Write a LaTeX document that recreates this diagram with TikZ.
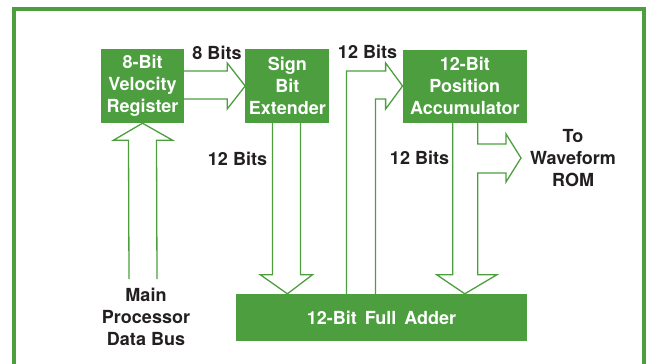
\documentclass[tikz,border=0pt]{standalone}
\usepackage{fontspec}
\setmainfont{TeX Gyre Heros}
\usetikzlibrary{positioning,calc}

\definecolor{hpgreen}{RGB}{76,158,62}
\definecolor{inkdark}{RGB}{35,31,32}

\tikzset{
  blk/.style={fill=hpgreen, text=white, align=center, inner sep=0pt,
    font=\bfseries\fontsize{18}{22}\selectfont},
  lbl/.style={text=inkdark, align=center, inner sep=0pt,
    font=\bfseries\fontsize{18}{22}\selectfont},
  hollow/.style={draw=hpgreen, line width=1.3pt, line join=miter},
  frame/.style={draw=hpgreen, line width=4pt}
}

\begin{document}
\begin{tikzpicture}[x=1pt, y=-1pt]
  \useasboundingbox (0,0) rectangle (648,364);
  \draw[frame] (14,364) -- (14,9) -- (644,9) -- (644,364);

  % blocks
  \node[blk, minimum width=83pt, minimum height=74pt] (vreg) at (142.5,86) {8-Bit\\Velocity\\Register};
  \node[blk, minimum width=84pt, minimum height=74pt, right=61pt of vreg] (sbe) {Sign\\Bit\\Extender};
  \node[blk, minimum width=124pt, minimum height=73pt, right=73pt of sbe] (pacc) {12-Bit\\Position\\Accumulator};
  \node[blk, minimum width=291pt, minimum height=47pt] (adder) at (381.5,317.5) {12-Bit\, Full\, Adder};

  % labels
  \node[lbl] (l8) at (217,53) {8 Bits};
  \node[lbl] (l12a) at (237.5,159) {12 Bits};
  \node[lbl] (l12b) at (367.5,52) {12 Bits};
  \node[lbl] (l12c) at (419.5,158) {12 Bits};
  \node[lbl] (bus) at (146,317) {Main\\Processor\\Data Bus};
  \coordinate (busend) at (143,279);
  \coordinate (wf) at (521,158);
  \node[lbl, right=9pt of wf] (rom) {To\\Waveform\\ROM};

  % tips
  \coordinate (sbetip) at (sbe.south |- adder.north);
  \coordinate (acctip) at (pacc.south |- adder.north);
  \coordinate (lp) at ($(pacc.west)+(-17,0)$);

  % hollow bus arrows
  \draw[hollow] ($(vreg.east)+(0,-15)$) -- ($(sbe.west)+(-18,-15)$) -- ($(sbe.west)+(-18,-23)$)
    -- (sbe.west) -- ($(sbe.west)+(-18,23)$) -- ($(sbe.west)+(-18,13)$) -- ($(vreg.east)+(0,13)$);
  \draw[hollow] ($(busend)+(-14,0)$) -- ($(vreg.south)+(-14,17)$) -- ($(vreg.south)+(-29,17)$)
    -- (vreg.south) -- ($(vreg.south)+(30,17)$) -- ($(vreg.south)+(14,17)$) -- ($(busend)+(14,0)$);
  \draw[hollow] ($(sbe.south)+(-15,0)$) -- ($(sbetip)+(-15,-19)$) -- ($(sbetip)+(-27,-19)$)
    -- (sbetip) -- ($(sbetip)+(25,-19)$) -- ($(sbetip)+(13,-19)$) -- ($(sbe.south)+(13,0)$);
  \draw[hollow] ($(adder.north)+(-35,0)$) |- ($(lp)+(0,-15)$) -- ($(lp)+(0,-23)$)
    -- (pacc.west) -- ($(lp)+(0,23)$) -- ($(lp)+(0,13)$) -| ($(adder.north)+(-6,0)$);
  \draw[hollow] ($(pacc.south)+(-12,0)$) -- ($(acctip)+(-12,-19)$) -- ($(acctip)+(-28,-19)$)
    -- (acctip) -- ($(acctip)+(32,-19)$) -- ($(acctip)+(13,-19)$) |- ($(wf)+(-15,15)$)
    -- ($(wf)+(-15,24)$) -- (wf) -- ($(wf)+(-15,-24)$) -- ($(wf)+(-15,-14)$) -| ($(pacc.south)+(13,0)$);
\end{tikzpicture}
\end{document}
